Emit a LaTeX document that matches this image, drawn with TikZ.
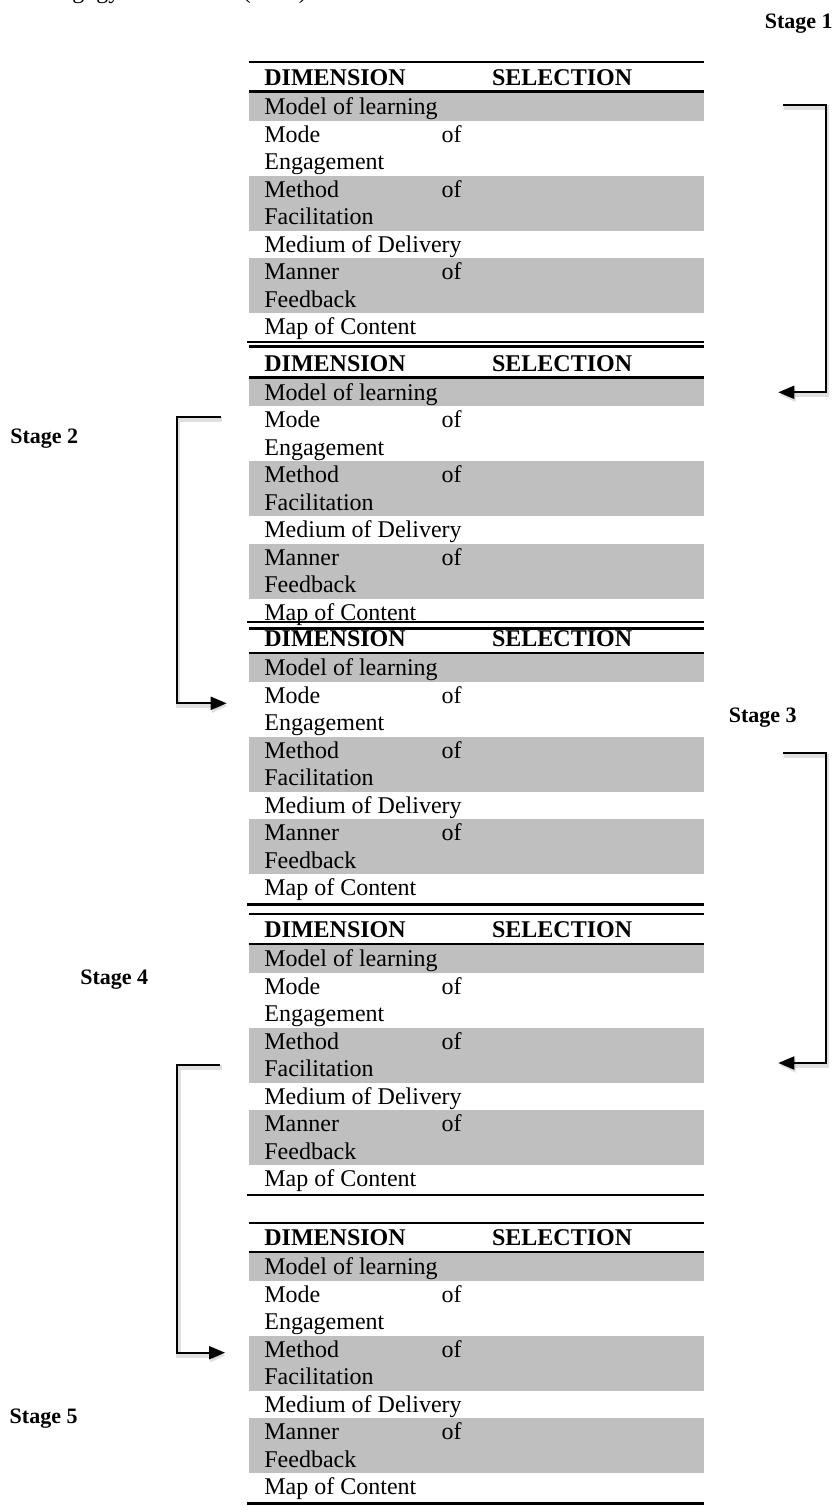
\documentclass[tikz,border=0pt]{standalone}
\usepackage{fontspec}
\setmainfont{Liberation Serif}
\usetikzlibrary{arrows.meta}
\definecolor{cellgray}{RGB}{191,191,191}

% One dimension/selection table.
% #1 name, #2 top rule, #3 header rule, #4 top of first row, #5 bottom rule
\newcommand\dimtable[5]{%
  \fill[cellgray] (249,{#4}) rectangle (704,{#4+27.5});
  \fill[cellgray] (249,{#4+82.5}) rectangle (704,{#4+137.5});
  \fill[cellgray] (249,{#4+165}) rectangle (704,{#4+220});
  \node[hdr] (#1-dim) at (264,{#3-6.7}) {DIMENSION};
  \node[hdr] (#1-sel) at (491.7,{#3-6.7}) {SELECTION};
  \node[cell] (#1-model) at (264,{#4+21.5}) {Model of learning};
  \node[cell] (#1-mode) at (264,{#4+49}) {Mode};
  \node[ofw]  (#1-mode-of) at (462,{#4+49}) {of};
  \node[cell] (#1-eng) at (264,{#4+76.5}) {Engagement};
  \node[cell] (#1-method) at (264,{#4+104}) {Method};
  \node[ofw]  (#1-method-of) at (462,{#4+104}) {of};
  \node[cell] (#1-fac) at (264,{#4+131.5}) {Facilitation};
  \node[cell] (#1-medium) at (264,{#4+159}) {Medium of Delivery};
  \node[cell] (#1-manner) at (264,{#4+186.5}) {Manner};
  \node[ofw]  (#1-manner-of) at (462,{#4+186.5}) {of};
  \node[cell] (#1-feed) at (264,{#4+214}) {Feedback};
  \node[cell] (#1-map) at (264,{#4+241.5}) {Map of Content};
  \draw[rule] (249,{#2}) -- (704,{#2});
  \draw[rule] (249,{#3}) -- (704,{#3});
  \draw[rule] (247,{#5}) -- (704,{#5});
}

\tikzset{
  cell/.style={anchor=base west, inner sep=0pt, font=\fontsize{12}{14}\selectfont},
  ofw/.style={anchor=base east, inner sep=0pt, font=\fontsize{12}{14}\selectfont},
  hdr/.style={anchor=base west, inner sep=0pt, font=\fontsize{12}{14}\selectfont\bfseries},
  stagelbl/.style={anchor=base west, inner sep=0pt, font=\fontsize{11}{13}\selectfont\bfseries},
  rule/.style={line width=1.25pt},
  link/.style={line width=1pt, -{Triangle[length=8pt,width=6.5pt]},
    preaction={draw=black, opacity=0.12, line width=2.2pt,
      transform canvas={xshift=0.6pt,yshift=-1.3pt}}},
}

\begin{document}
\begin{tikzpicture}[x=0.5pt,y=-0.5pt]
  \fill[white] (0,0) rectangle (834,1506);
  \useasboundingbox (0,0) rectangle (834,1506);

  % caption line running off the top edge
  \node[cell] (caption) at (25.3,-2) {Pedagogy Framework (2015)};

  \dimtable{t1}{62}{91.7}{93.3}{342.2}
  \dimtable{t2}{346.5}{377.7}{378.7}{622.2}
  \dimtable{t3}{628.7}{653}{654.3}{904.6}
  \dimtable{t4}{914}{944}{945.3}{1195}
  \dimtable{t5}{1223}{1252}{1253.3}{1503.3}

  % stage labels
  \node[stagelbl, anchor=base east] (stage1) at (833,28) {Stage 1};
  \node[stagelbl] (stage2) at (10,443) {Stage 2};
  \node[stagelbl] (stage3) at (728.5,722) {Stage 3};
  \node[stagelbl] (stage4) at (80,984) {Stage 4};
  \node[stagelbl] (stage5) at (9.3,1423) {Stage 5};

  % bracket connectors
  \coordinate (a1s) at (782.7,105);
  \coordinate (a1e) at (778.3,392.3);
  \coordinate (a2s) at (221,416.7);
  \coordinate (a2e) at (226.7,703.3);
  \coordinate (a3s) at (782.7,753.3);
  \coordinate (a3e) at (778.3,1063);
  \coordinate (a4s) at (220.3,1065);
  \coordinate (a4e) at (225,1352.7);

  \draw[link] (a1s) -- (826,105) |- (a1e);
  \draw[link] (a2s) -- (177,416.7) |- (a2e);
  \draw[link] (a3s) -- (826,753.3) |- (a3e);
  \draw[link] (a4s) -- (177.3,1065) |- (a4e);
\end{tikzpicture}
\end{document}
